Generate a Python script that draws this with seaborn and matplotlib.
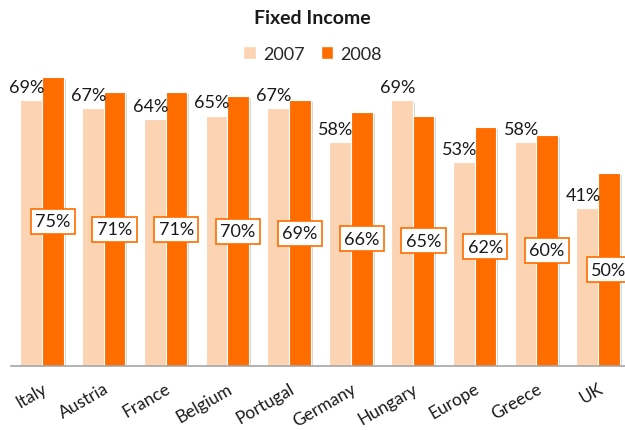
import matplotlib
matplotlib.use("Agg")
import matplotlib.pyplot as plt
import matplotlib.patheffects as pe
import seaborn as sns
import pandas as pd

countries = ["Italy", "Austria", "France", "Belgium", "Portugal",
             "Germany", "Hungary", "Europe", "Greece", "UK"]
years = ["2007", "2008"]
share_2007 = [69, 67, 64, 65, 67, 58, 69, 53, 58, 41]
share_2008 = [75, 71, 71, 70, 69, 66, 65, 62, 60, 50]
colors = {"2007": "#FDD4B3", "2008": "#FF6D00"}

df = pd.DataFrame({
    "country": countries * 2,
    "year": [years[0]] * len(countries) + [years[1]] * len(countries),
    "share": share_2007 + share_2008,
})

sns.set_theme(style="white")
plt.rcParams["font.family"] = ["Lato", "DejaVu Sans"]

fig = plt.figure(figsize=(6.25, 4.31), dpi=100)
ax = fig.add_axes([11 / 625, 0.1485, 618 / 625, 0.7153])

sns.barplot(data=df, x="country", y="share", hue="year", order=countries,
            hue_order=years, palette=colors, width=0.7, saturation=1,
            edgecolor="white", linewidth=0.8, ax=ax, legend=False)

shadow = [pe.SimplePatchShadow(offset=(1.5, -1.5), shadow_rgbFace="#888888", alpha=0.35),
          pe.Normal()]
for p in ax.patches:
    p.set_path_effects(shadow)

ax.set_ylim(0, 80)
ax.set_xlim(-0.5, 9.5)
ax.set_xlabel("")
ax.set_ylabel("")
ax.set_yticks([])
for s in ["top", "right", "left"]:
    ax.spines[s].set_visible(False)
ax.spines["bottom"].set_color("#A6A6A6")
ax.spines["bottom"].set_linewidth(1.2)

ax.tick_params(axis="x", length=0, pad=10)
for lbl in ax.get_xticklabels():
    lbl.set_rotation(30)
    lbl.set_ha("right")
    lbl.set_rotation_mode("anchor")
    lbl.set_fontsize(12.5)
    lbl.set_color("#1a1a1a")

c07, c08 = ax.containers[0], ax.containers[1]
for bar, v in zip(c07, share_2007):
    ax.text(bar.get_x() + bar.get_width() / 2 - 0.07, v + 1.3, f"{v}%",
            ha="center", va="bottom", fontsize=13, color="#1a1a1a")
for bar, v in zip(c08, share_2008):
    ax.text(bar.get_x() + bar.get_width() / 2, v / 2, f"{v}%",
            ha="center", va="center", fontsize=13, color="#1a1a1a",
            bbox=dict(boxstyle="square,pad=0.25", facecolor="white",
                      edgecolor=colors["2008"], linewidth=1.2))

fig.text(0.5, 1 - 18 / 431, "Fixed Income", ha="center", va="center",
         fontsize=14, fontweight="bold", color="#1a1a1a")

handles = [plt.Rectangle((0, 0), 1, 1, facecolor=colors[y]) for y in years]
fig.legend(handles, years, loc="center", bbox_to_anchor=(0.5, 1 - 55 / 431),
           ncol=2, frameon=False, fontsize=13, handlelength=0.7,
           handleheight=0.7, handletextpad=0.4, columnspacing=0.9)

fig.savefig("out.png", dpi=100)
